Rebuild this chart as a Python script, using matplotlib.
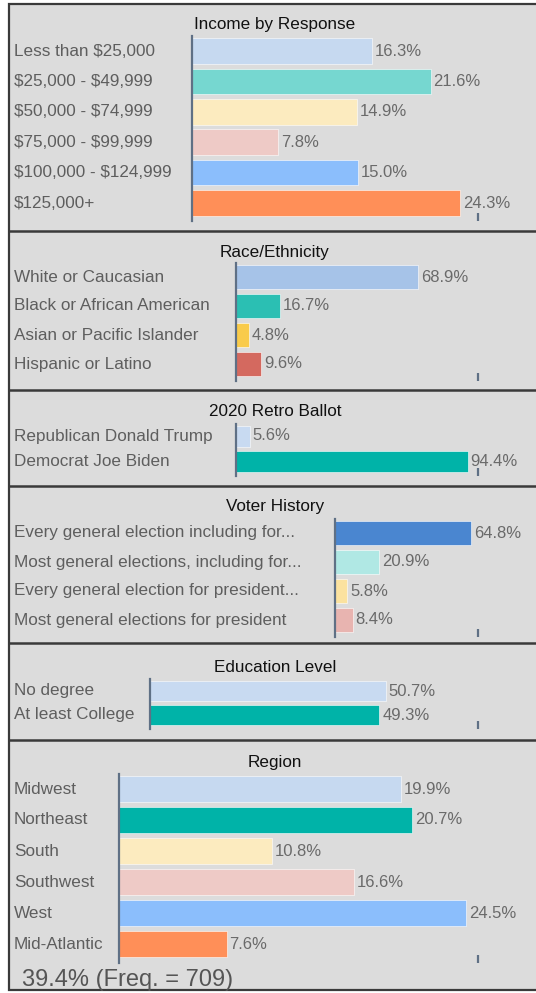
import matplotlib.pyplot as plt
import matplotlib.transforms as mtransforms
from matplotlib.patches import Rectangle

plt.rcParams['font.family'] = ['Liberation Sans', 'DejaVu Sans']
plt.rcParams['text.parse_math'] = False

# --- data ---
income_labels = ['Less than $25,000', '$25,000 - $49,999', '$50,000 - $74,999',
                 '$75,000 - $99,999', '$100,000 - $124,999', '$125,000+']
income_values = [16.3, 21.6, 14.9, 7.8, 15.0, 24.3]

race_labels = ['White or Caucasian', 'Black or African American',
               'Asian or Pacific Islander', 'Hispanic or Latino']
race_values = [68.9, 16.7, 4.8, 9.6]

ballot_labels = ['Republican Donald Trump', 'Democrat Joe Biden']
ballot_values = [5.6, 94.4]

history_labels = ['Every general election including for...',
                  'Most general elections, including for...',
                  'Every general election for president...',
                  'Most general elections for president']
history_values = [64.8, 20.9, 5.8, 8.4]

edu_labels = ['No degree', 'At least College']
edu_values = [50.7, 49.3]

region_labels = ['Midwest', 'Northeast', 'South', 'Southwest', 'West', 'Mid-Atlantic']
region_values = [19.9, 20.7, 10.8, 16.6, 24.5, 7.6]

footer = '39.4% (Freq. = 709)'

# --- styling ---
six_colors = ['#c6d9f0', '#00b3a8', '#fcebbf', '#eecac6', '#8bbefc', '#ff8f58']
income_colors = ['#c6d9f0', '#76d7d0', '#fcebbf', '#eecac6', '#8bbefc', '#ff8f58']
race_colors = ['#a6c3e8', '#2bbfb3', '#f9cb4a', '#d4695f']
two_colors = ['#c8daf1', '#00b3a8']
history_colors = ['#4a86d0', '#b0e8e4', '#fbe29f', '#e8b4b0']

W, H = 536, 993
fig = plt.figure(figsize=(W / 100, H / 100), dpi=100)
fig.patch.set_facecolor('white')

def fx(px):
    return px / W

def fy(py):
    return 1 - py / H

# gray background with border
fig.patches.append(Rectangle((fx(9), fy(990)), fx(560) - fx(9), fy(4) - fy(990),
                             transform=fig.transFigure, facecolor='#dcdcdc',
                             edgecolor='#3a3a3a', lw=1.6, zorder=-5))
for sep in [231, 390, 486, 643, 740]:
    fig.add_artist(plt.Line2D([fx(9), 1], [fy(sep), fy(sep)], transform=fig.transFigure,
                              color='#3a3a3a', lw=1.8))

# (title, labels, values, colors, axis x px, title y px, first row px, row spacing px, xmax)
panels = [
    ('Income by Response', income_labels, income_values, income_colors, 192, 25, 51, 30.4, 25.9),
    ('Race/Ethnicity', race_labels, race_values, race_colors, 236, 252, 277, 29.0, 91.6),
    ('2020 Retro Ballot', ballot_labels, ballot_values, two_colors, 236, 411, 436, 25.0, 98.5),
    ('Voter History', history_labels, history_values, history_colors, 335, 507, 533, 29.0, 68.1),
    ('Education Level', edu_labels, edu_values, two_colors, 150, 667, 691, 24.0, 70.5),
    ('Region', region_labels, region_values, six_colors, 119, 762, 789, 31.0, 25.35),
]

for title, labels, values, colors, x0, ty, c0, s, xmax in panels:
    n = len(values)
    top = c0 - s / 2
    bottom = c0 + (n - 1) * s + s * 0.6
    ax = fig.add_axes([fx(x0), fy(bottom), fx(478) - fx(x0), fy(top) - fy(bottom)])
    ax.set_facecolor('none')
    ax.barh(range(n), values, height=0.84, color=colors, edgecolor='white', lw=0.4)
    ax.set_xlim(0, xmax)
    ax.set_ylim(n - 1 + 0.6, -0.5)
    for sp in ['top', 'right', 'bottom']:
        ax.spines[sp].set_visible(False)
    ax.spines['left'].set_color('#5f7085')
    ax.spines['left'].set_linewidth(1.6)
    ax.set_yticks([])
    ax.set_xticks([xmax])
    ax.set_xticklabels([])
    ax.tick_params(axis='x', direction='in', length=6, width=1.6, color='#5f7085')
    trans = mtransforms.blended_transform_factory(fig.transFigure, ax.transData)
    for i, (lab, v) in enumerate(zip(labels, values)):
        ax.text(fx(14), i, lab, transform=trans, ha='left', va='center',
                fontsize=12.3, color='#5e5e5e')
        ax.annotate(f'{v:.1f}%', (v, i), xytext=(2, 0), textcoords='offset points',
                    ha='left', va='center', fontsize=12, color='#6a6a6a')
    fig.text(fx(275), fy(ty), title, ha='center', va='center', fontsize=12.3, color='#111111')

fig.text(fx(22), fy(980), footer, ha='left', va='center', fontsize=17, color='#555555')

fig.savefig('out.png', dpi=100)
